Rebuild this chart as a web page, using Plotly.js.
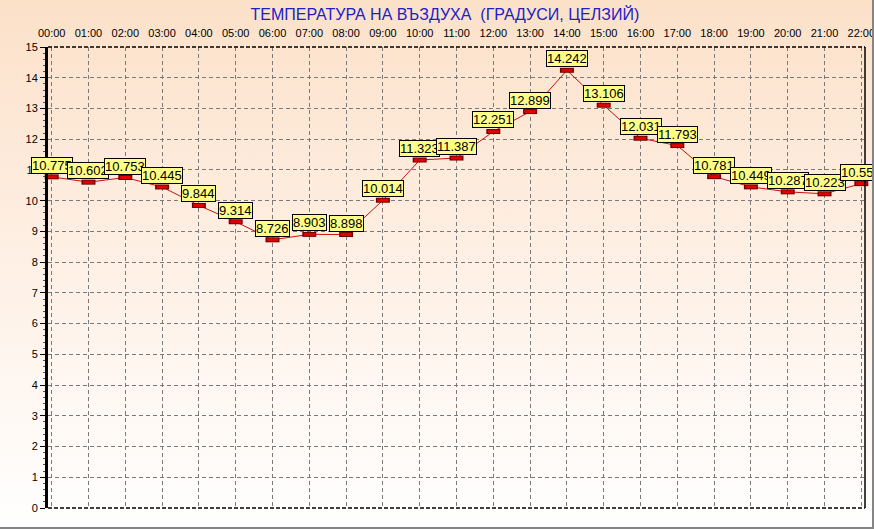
<!DOCTYPE html>
<html>
<head>
<meta charset="utf-8">
<script src="https://cdn.plot.ly/plotly-3.0.1.min.js"></script>
<style>
  html, body { margin: 0; padding: 0; }
  #wrap { position: relative; width: 874px; height: 529px; overflow: hidden;
          background: linear-gradient(to bottom, #FCE1C9 0%, #FEF0E5 50%, #FFFFFF 100%); }
  #chart { position: absolute; left: 0; top: 0; width: 874px; height: 529px; }
  #frame { position: absolute; left: 0; top: 0; width: 874px; height: 529px; box-sizing: border-box;
           border-right: 2px solid #858585; border-bottom: 2px solid #858585; pointer-events: none; }
</style>
</head>
<body>
<div id="wrap"><div id="chart"></div><div id="frame"></div></div>
<script>
const hours = ["00:00","01:00","02:00","03:00","04:00","05:00","06:00","07:00","08:00","09:00","10:00","11:00",
               "12:00","13:00","14:00","15:00","16:00","17:00","18:00","19:00","20:00","21:00","22:00"];
const temperature = [10.775, 10.602, 10.753, 10.445, 9.844, 9.314, 8.726, 8.903, 8.898, 10.014, 11.323, 11.387,
                     12.251, 12.899, 14.242, 13.106, 12.031, 11.793, 10.781, 10.449, 10.287, 10.223, 10.554];
const yTicks = [0,1,2,3,4,5,6,7,8,9,10,11,12,13,14,15];
const titleText = "ТЕМПЕРАТУРА НА ВЪЗДУХА  (ГРАДУСИ, ЦЕЛЗИЙ)";

const font = "Liberation Sans, Arial, sans-serif";

const traces = [
  { x: hours, y: temperature, type: "scatter", mode: "lines",
    line: { color: "#CC1010", width: 1 }, hoverinfo: "skip", cliponaxis: false },
  { x: hours, y: temperature, type: "scatter", mode: "markers",
    marker: { symbol: "line-ew", size: 10, line: { color: "#700000", width: 5 } },
    hoverinfo: "skip", cliponaxis: false },
  { x: hours, y: temperature, type: "scatter", mode: "markers",
    marker: { symbol: "line-ew", size: 8, line: { color: "#E00000", width: 3 } },
    hoverinfo: "skip", cliponaxis: false }
];

const annotations = hours.map((h, i) => ({
  x: h, y: temperature[i], xref: "x", yref: "y",
  text: temperature[i].toFixed(3), showarrow: false,
  xanchor: "center", yanchor: "bottom", yshift: 3,
  font: { family: font, size: 13, color: "#000000" },
  bgcolor: "#FFFF88", bordercolor: "#000000", borderwidth: 1, borderpad: 0
}));

const layout = {
  width: 874, height: 529,
  paper_bgcolor: "rgba(0,0,0,0)", plot_bgcolor: "rgba(0,0,0,0)",
  margin: { l: 48, r: 9, t: 47, b: 21, pad: 0 },
  showlegend: false,
  title: { text: titleText, xref: "container", yref: "container", x: 0.509, y: 0.973,
           xanchor: "center", yanchor: "middle",
           font: { family: font, size: 16, color: "#2020C8" } },
  xaxis: {
    type: "category", categoryorder: "array", categoryarray: hours,
    range: [-0.1, 22.1], side: "top",
    tickvals: hours, ticktext: hours, ticks: "", ticklabelstandoff: 7,
    tickfont: { family: font, size: 11, color: "#000000" },
    showgrid: true, gridcolor: "#7A7A7A", gridwidth: 1, griddash: "4px,3px",
    showline: false, zeroline: false, fixedrange: true
  },
  yaxis: {
    range: [0, 15], tickvals: yTicks, ticktext: yTicks.map(String),
    ticks: "outside", ticklen: 5, tickcolor: "#000000", tickwidth: 1,
    minor: { dtick: 0.2, ticks: "outside", ticklen: 2, tickcolor: "#555555", showgrid: false },
    tickfont: { family: font, size: 11, color: "#000000" },
    showgrid: true, gridcolor: "#7A7A7A", gridwidth: 1, griddash: "4px,3px",
    showline: true, linecolor: "#000000", linewidth: 3, zeroline: false, fixedrange: true
  },
  shapes: [
    { type: "line", xref: "paper", yref: "paper", x0: 0, x1: 1, y0: 1, y1: 1,
      line: { color: "#000000", width: 1.5, dash: "4px,2px" } },
    { type: "line", xref: "paper", yref: "paper", x0: 0, x1: 1, y0: 0, y1: 0,
      line: { color: "#000000", width: 1.5, dash: "4px,2px" } },
    { type: "line", xref: "paper", yref: "paper", x0: 1, x1: 1, y0: 0, y1: 1,
      line: { color: "#000000", width: 1.5 } }
  ],
  annotations: annotations
};

Plotly.newPlot("chart", traces, layout, { displayModeBar: false, staticPlot: true });
</script>
</body>
</html>
